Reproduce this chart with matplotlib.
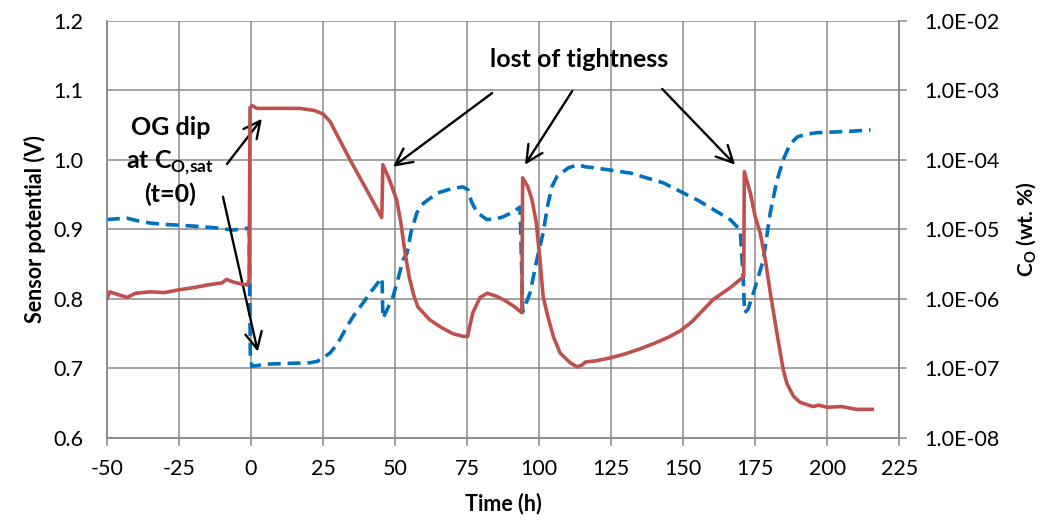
import numpy as np
import matplotlib
matplotlib.use('Agg')
import matplotlib.pyplot as plt
from matplotlib.ticker import FixedLocator, FuncFormatter, NullLocator

plt.rcParams['font.family'] = ['Lato', 'DejaVu Sans']
plt.rcParams['mathtext.fontset'] = 'custom'
plt.rcParams['mathtext.rm'] = 'Lato:bold'
plt.rcParams['mathtext.bf'] = 'Lato:bold'
plt.rcParams['axes.unicode_minus'] = False

# sensor potential (V), blue dashed, left axis
t_sensor = [-50, -47, -43, -39, -35, -30, -25, -17.7, -12, -6.2, -2, -0.6, -0.4, -0.2, 0.3,
            5.5, 12, 20.5, 23, 25, 27.4, 30, 33.3, 36, 38.9, 42, 44.8, 45.5, 45.8, 47, 49.3,
            51, 52.8, 54.2, 55.5, 57.6, 60, 64.6, 70, 73.6, 75.3, 76.5, 78.5, 81.9, 85, 87.5,
            91, 93.4, 93.9, 94.3, 96.9, 99.2, 101.4, 103, 104.5, 106.2, 110, 113.2, 116, 120.1,
            131.6, 143, 155, 166.3, 169.8, 170.8, 171.3, 172.5, 174.4, 177.8, 180.2, 182.5,
            184.7, 187, 189.6, 193, 196.5, 208, 215]
v_sensor = [0.914, 0.915, 0.916, 0.912, 0.909, 0.907, 0.906, 0.904, 0.902, 0.899, 0.901, 0.902,
            0.80, 0.72, 0.703, 0.706, 0.707, 0.708, 0.710, 0.715, 0.722, 0.735, 0.760, 0.778,
            0.794, 0.812, 0.827, 0.830, 0.772, 0.782, 0.803, 0.828, 0.856, 0.866, 0.895, 0.924,
            0.938, 0.952, 0.959, 0.961, 0.957, 0.940, 0.924, 0.914, 0.915, 0.918, 0.925, 0.932,
            0.85, 0.781, 0.809, 0.856, 0.895, 0.935, 0.962, 0.976, 0.988, 0.993, 0.990, 0.988,
            0.981, 0.967, 0.942, 0.914, 0.899, 0.83, 0.780, 0.785, 0.809, 0.856, 0.924, 0.970,
            1.000, 1.022, 1.033, 1.037, 1.039, 1.041, 1.043]

# oxygen content C_O as log10(wt. %), red solid, right axis
t_co = [-50, -49, -46, -43, -40, -35, -30, -25, -20, -15, -10, -8.5, -6, -3, -1.2, -0.6, -0.3,
        0.5, 2, 10, 17, 22, 25, 27.5, 30, 34.4, 40, 45.4, 45.8, 48, 50.6, 52, 53.5, 55, 56.5,
        58, 62, 66, 70, 73.6, 75.2, 75.8, 77, 79.5, 82, 85, 88, 91, 94, 94.3, 96, 97.5, 99,
        100.3, 101.4, 103, 105, 107.3, 110.8, 113.2, 115, 116, 120, 124.7, 130, 135, 140, 145,
        149, 153, 156, 160.4, 166.3, 171, 171.2, 173.3, 175, 176.7, 178.5, 180.2, 182.5, 184.7,
        186, 188.2, 190.6, 195, 197, 200, 205, 210, 215.6]
log_co = [-6.00, -5.90, -5.94, -5.98, -5.92, -5.90, -5.91, -5.87, -5.84, -5.80, -5.77, -5.72,
          -5.76, -5.79, -5.80, -5.72, -3.25, -3.22, -3.26, -3.26, -3.26, -3.29, -3.34, -3.45,
          -3.65, -4.00, -4.42, -4.83, -4.07, -4.28, -4.58, -4.90, -5.34, -5.70, -5.95, -6.12,
          -6.30, -6.41, -6.50, -6.54, -6.54, -6.42, -6.20, -5.98, -5.92, -5.96, -6.02, -6.10,
          -6.20, -4.26, -4.38, -4.57, -4.90, -5.44, -5.97, -6.25, -6.55, -6.78, -6.92, -6.98,
          -6.95, -6.91, -6.89, -6.85, -6.79, -6.72, -6.64, -6.55, -6.46, -6.33, -6.20, -6.01,
          -5.84, -5.68, -4.17, -4.48, -4.82, -5.05, -5.44, -5.91, -6.49, -7.02, -7.22, -7.40,
          -7.49, -7.55, -7.53, -7.56, -7.55, -7.59, -7.59]

x_ticks = list(range(-50, 226, 25))
v_ticks = [0.6, 0.7, 0.8, 0.9, 1.0, 1.1, 1.2]
co_ticks = [1e-8, 1e-7, 1e-6, 1e-5, 1e-4, 1e-3, 1e-2]

grid_c = '#8a8a8a'
fig = plt.figure(figsize=(10.47, 5.2), dpi=100)
ax = fig.add_axes([0.102, 0.158, 0.757, 0.802])
ax2 = ax.twinx()

ax.plot(t_sensor, v_sensor, color='#0070C0', lw=2.6, ls=(0, (3.6, 1.9)), zorder=3)
ax2.plot(t_co, 10 ** np.array(log_co), color='#C0504D', lw=2.6, zorder=4)

ax.set_xlim(-50, 225)
ax.set_ylim(0.6, 1.2)
ax.set_xticks(x_ticks)
ax.yaxis.set_major_locator(FixedLocator(v_ticks))
ax.yaxis.set_major_formatter(FuncFormatter(lambda v, p: f'{v:.1f}'))
ax.grid(True, color=grid_c, lw=1.1)
ax.set_axisbelow(True)

ax2.set_yscale('log')
ax2.set_ylim(1e-8, 1e-2)
ax2.yaxis.set_major_locator(FixedLocator(co_ticks))
ax2.yaxis.set_minor_locator(NullLocator())
ax2.yaxis.set_major_formatter(FuncFormatter(lambda v, p: f'{v:.1E}'))

for a in (ax, ax2):
    for s in a.spines.values():
        s.set_color(grid_c)
        s.set_linewidth(1.1)
    a.spines['top'].set_visible(False)
ax.tick_params(axis='x', direction='out', length=6, color=grid_c, width=1.1,
               labelsize=15.5, pad=9)
ax.tick_params(axis='y', length=0, labelsize=15.5, pad=17)
ax2.tick_params(axis='y', direction='out', length=6, color=grid_c, width=1.1,
                labelsize=15.5, pad=12)

ax.set_xlabel('Time (h)', fontsize=15.5, fontweight='bold', labelpad=10)
ax.set_ylabel('Sensor potential (V)', fontsize=15.5, fontweight='bold', labelpad=5)
ax2.set_ylabel(r'C$_{\mathbf{O}}$ (wt. %)', fontsize=15, fontweight='bold', labelpad=11)

# annotations
tf = dict(fontsize=18, fontweight='bold', ha='center', va='center')
ax.text(-28, 1.046, 'OG dip', **tf)
ax.text(-28, 0.995, r'at C$_{\mathbf{O{,}sat}}$', **tf)
ax.text(-28, 0.950, '(t=0)', **tf)
ax.text(114, 1.144, 'lost of tightness', **tf)

ap = dict(arrowstyle='->', lw=1.7, color='black', mutation_scale=30, shrinkA=0, shrinkB=0)
arrows = [((-8.3, 0.994), (3.8, 1.059)), ((-9.7, 0.947), (2.4, 0.724)),
          ((83.7, 1.096), (49.3, 0.99)), ((111.5, 1.099), (95.1, 0.993)),
          ((142.7, 1.102), (168.0, 0.993))]
for tail, head in arrows:
    ax.annotate('', xy=head, xytext=tail, arrowprops=ap, zorder=6)

fig.savefig('out.png', dpi=100)
